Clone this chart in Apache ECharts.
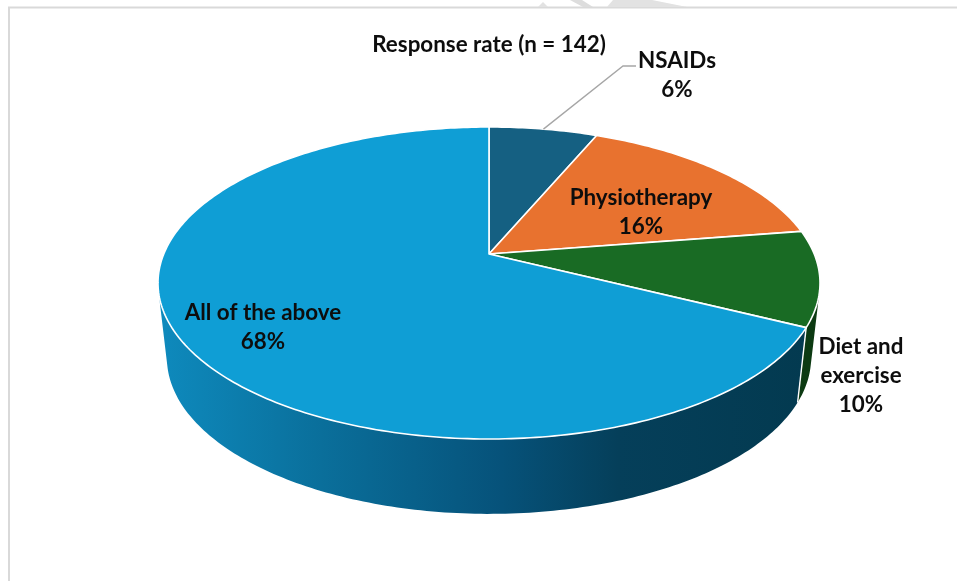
<!DOCTYPE html>
<html>
<head>
<meta charset="utf-8">
<title>Response rate</title>
<style>
html, body { margin: 0; padding: 0; background: #fff; }
#chart { width: 957px; height: 581px; }
</style>
</head>
<body>
<div id="chart"></div>
<script src="https://cdn.jsdelivr.net/npm/echarts@6/dist/echarts.min.js"></script>
<script>
// 数据
var titleText = 'Response rate (n = 142)';
var categories = ['NSAIDs', 'Physiotherapy', 'Diet and\nexercise', 'All of the above'];
var counts = [9, 23, 14, 96];

// 样式
var topColors = ['#156082', '#E8722F', '#196B24', '#0F9ED5'];
var wallGradient = [
	{ offset: 0, color: '#0E8ABD' },
	{ offset: 0.25, color: '#0A6F9B' },
	{ offset: 0.53, color: '#06527A' },
	{ offset: 0.71, color: '#053F5A' },
	{ offset: 1, color: '#033A50' }
];
var wallColors = ['#0B3041', '#74391A', '#0C3A12', wallGradient];
var labelCenters = [[677, 75.5], [641, 212], [861, 376], [263, 327.5]];
var leaderElbow = [623, 66];
var leaderEnd = [636, 66];
var labelFont = 'bold 22.4px Lato, "Noto Sans", sans-serif';

var tilt = 0.186; // 透视:圆心相对椭圆中心的偏移
var wallDrop = 0.48; // 侧面高度(轴单位)
var wallShrink = 0.973; // 底面收缩
var wallFront = [29, 71]; // 可见侧面的百分比范围

// 累计起止百分比
var total = counts.reduce(function(a, b) { return a + b; }, 0);
var sliceData = [];
var sum = 0;
counts.forEach(function(c) {
	sliceData.push([sum / total * 100, (sum + c) / total * 100]);
	sum += c;
});

// 百分比转成轴坐标,从12点顺时针
function rimPoint(pct) {
	var a = pct / 100 * Math.PI * 2;
	var X = Math.sin(a), Y = Math.cos(a);
	var w = 1 + tilt * Y;
	return [Math.sqrt(1 - tilt * tilt) * X / w, (Y + tilt) / w];
}

function arcPoints(start, end) {
	var pts = [];
	var n = Math.ceil((end - start) * 4);
	for (var i = 0; i <= n; i++) {
		pts.push(rimPoint(start + (end - start) * i / n));
	}
	return pts;
}

function dropPoint(p) {
	return [p[0] * wallShrink, p[1] - wallDrop];
}

function renderWall(params, api) {
	var start = Math.max(api.value(0), wallFront[0]);
	var end = Math.min(api.value(1), wallFront[1]);
	if (end <= start) {
		return;
	}
	var top = arcPoints(start, end);
	var bottom = top.map(dropPoint).reverse();
	var color = wallColors[params.dataIndex];
	var fill = typeof color === 'string' ? color : {
		type: 'linear', x: 0, y: 0, x2: 1, y2: 0, colorStops: color
	};
	var children = [{
		type: 'polygon',
		shape: { points: top.concat(bottom).map(api.coord) },
		style: { fill: fill }
	}];
	// 侧面分界白线
	if (api.value(0) > wallFront[0]) {
		children.push({
			type: 'polyline',
			shape: { points: [top[0], dropPoint(top[0])].map(api.coord) },
			style: { fill: 'none', stroke: '#fff', lineWidth: 1.4 }
		});
	}
	return { type: 'group', children: children };
}

function renderTop(params, api) {
	var pts = [[0, tilt]].concat(arcPoints(api.value(0), api.value(1)));
	return {
		type: 'polygon',
		shape: { points: pts.map(api.coord) },
		style: { fill: topColors[params.dataIndex], stroke: '#fff', lineWidth: 1.6, lineJoin: 'round' }
	};
}

function renderLabel(params, api) {
	var i = params.dataIndex;
	var children = [{
		type: 'text',
		style: {
			text: categories[i] + '\n' + Math.round(counts[i] / total * 100) + '%',
			x: labelCenters[i][0],
			y: labelCenters[i][1],
			align: 'center',
			verticalAlign: 'middle',
			font: labelFont,
			lineHeight: 29,
			fill: '#0D0D0D'
		}
	}];
	if (i === 0) {
		var mid = api.coord(rimPoint((api.value(0) + api.value(1)) / 2));
		children.unshift({
			type: 'polyline',
			shape: { points: [mid, leaderElbow, leaderEnd] },
			style: { fill: 'none', stroke: '#A6A6A6', lineWidth: 1.3 }
		});
	}
	return { type: 'group', children: children };
}

var chart = echarts.init(document.getElementById('chart'));
chart.setOption({
	animation: false,
	backgroundColor: '#fff',
	grid: { left: 158, top: 127, width: 662, height: 390 },
	xAxis: { type: 'value', min: -1, max: 1, show: false },
	yAxis: { type: 'value', min: -1.5, max: 1, show: false },
	graphic: [
		{ type: 'line', shape: { x1: 8, y1: 7.5, x2: 957, y2: 7.5 }, style: { stroke: '#D9D9D9', lineWidth: 2 } },
		{ type: 'line', shape: { x1: 9, y1: 7, x2: 9, y2: 581 }, style: { stroke: '#D9D9D9', lineWidth: 2 } },
		{ type: 'polygon', shape: { points: [[538, 7], [543, 2], [548, 7]] }, style: { fill: '#E2E2E2' } },
		{ type: 'polygon', shape: { points: [[570, 0], [582, 0], [593, 7], [583, 7]] }, style: { fill: '#DDDDDD' } },
		{ type: 'polygon', shape: { points: [[613, 0], [652, 0], [687, 7], [607, 7]] }, style: { fill: '#E2E2E2' } },
		{
			type: 'text',
			style: {
				text: titleText, x: 489, y: 44.5, align: 'center', verticalAlign: 'middle',
				font: labelFont, fill: '#0D0D0D'
			}
		}
	],
	series: [
		{ type: 'custom', coordinateSystem: 'cartesian2d', silent: true, data: sliceData, renderItem: renderWall },
		{ type: 'custom', coordinateSystem: 'cartesian2d', silent: true, data: sliceData, renderItem: renderTop },
		{ type: 'custom', coordinateSystem: 'cartesian2d', silent: true, data: sliceData, renderItem: renderLabel }
	]
});
</script>
</body>
</html>
